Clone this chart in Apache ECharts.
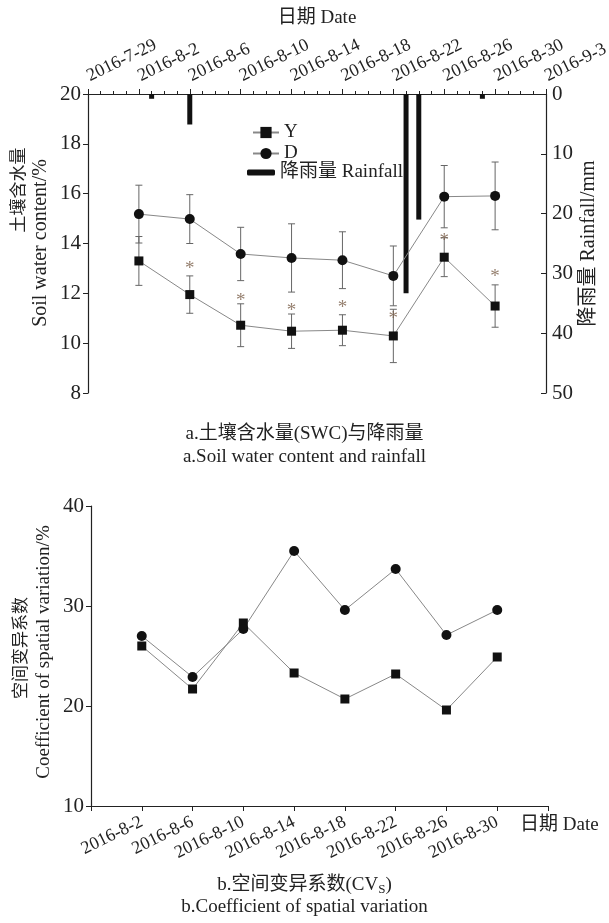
<!DOCTYPE html>
<html><head><meta charset="utf-8">
<script src="https://cdn.jsdelivr.net/npm/echarts@6/dist/echarts.min.js"></script>
<style>html,body{margin:0;padding:0;background:#fff}#c{width:609px;height:923px}</style>
</head><body><div id="c"></div>
<script>
// ---------- data ----------
const sampleDates = ['2016-8-2','2016-8-6','2016-8-10','2016-8-14','2016-8-18','2016-8-22','2016-8-26','2016-8-30'];
const swcY    = [13.30, 11.95, 10.72, 10.48, 10.52, 10.29, 13.45, 11.49];
const swcYErr = [0.98, 0.75, 0.86, 0.69, 0.62, 1.07, 0.78, 0.85];
const swcD    = [15.18, 14.98, 13.58, 13.42, 13.33, 12.70, 15.88, 15.91];
const swcDErr = [1.16, 0.98, 1.07, 1.37, 1.14, 1.20, 1.25, 1.36];
const sigMarkY = [null, 13.15, 11.87, 11.44, 11.56, 11.13, 14.27, 12.80];
const rainDates = ['2016-8-3','2016-8-6','2016-8-23','2016-8-24','2016-8-29'];
const rainMm    = [0.8, 5.1, 33.3, 21.0, 0.8];
const cvY = [26.0, 21.7, 28.3, 23.3, 20.7, 23.2, 19.6, 24.9];
const cvD = [27.0, 22.9, 27.7, 35.5, 29.6, 33.7, 27.1, 29.6];
const axisStart = '2016-7-29', axisEnd = '2016-9-3';

// ---------- helpers ----------
const FONT = '"Liberation Serif","Times New Roman","Noto Sans CJK SC",serif';
function toDate(s){ const p = s.split('-').map(Number); return new Date(p[0], p[1]-1, p[2]); }
const t0 = toDate(axisStart);
function dayIndex(s){ return Math.round((toDate(s) - t0) / 86400000); }
function dateLabel(i){ const d = new Date(t0.getFullYear(), t0.getMonth(), t0.getDate() + Math.round(i)); return d.getFullYear() + '-' + (d.getMonth()+1) + '-' + d.getDate(); }
const spanDays = dayIndex(axisEnd);
const xs = sampleDates.map(dayIndex);
const AX = '#222';

function errRender(params, api){
  const x = api.value(0), lo = api.value(1), hi = api.value(2);
  const a = api.coord([x, lo]), b = api.coord([x, hi]);
  const w = 3.5, st = {stroke:'#666', lineWidth:1};
  return {type:'group', children:[
    {type:'line', shape:{x1:a[0], y1:a[1], x2:b[0], y2:b[1]}, style:st},
    {type:'line', shape:{x1:a[0]-w, y1:a[1], x2:a[0]+w, y2:a[1]}, style:st},
    {type:'line', shape:{x1:b[0]-w, y1:b[1], x2:b[0]+w, y2:b[1]}, style:st}
  ]};
}
const txt = {fontFamily: FONT, fontSize: 19, color: AX};
const tickTxt = {fontFamily: FONT, fontSize: 21, color: AX};
const dateTxt = {fontFamily: FONT, fontSize: 18, color: AX};

const chart = echarts.init(document.getElementById('c'), null, {renderer:'canvas'});
chart.setOption({
  backgroundColor:'#fff',
  animation:false,
  title:[
    {text:'a.土壤含水量(SWC)与降雨量', left:'center', top:420, textStyle:Object.assign({fontWeight:'normal'}, txt)},
    {text:'a.Soil water content and rainfall', left:'center', top:443, textStyle:Object.assign({fontWeight:'normal'}, txt)},
    {text:'{m|b.空间变异系数(CV}{s|S}{m|)}', left:'center', top:870, textStyle:{fontWeight:'normal', rich:{m:Object.assign({fontWeight:'normal'}, txt), s:{fontFamily:FONT, fontWeight:'normal', fontSize:13, color:AX, padding:[8,0,0,0]}}}},
    {text:'b.Coefficient of spatial variation', left:'center', top:893, textStyle:Object.assign({fontWeight:'normal'}, txt)}
  ],
  legend:[
    {data:['Y','D'], orient:'vertical', left:252, top:123, padding:0, itemWidth:26, itemHeight:14, itemGap:2, textStyle:Object.assign({}, txt), selectedMode:false},
    {data:['降雨量 Rainfall'], left:247, top:163, padding:0, itemWidth:28, itemHeight:6, textStyle:Object.assign({}, txt), selectedMode:false}
  ],
  grid:[
    {left:88, right:63, top:94, height:299, outerBoundsMode:'none'},
    {left:91, right:61, top:506, height:300, outerBoundsMode:'none'}
  ],
  xAxis:[
    {gridIndex:0, type:'value', position:'top', min:0, max:spanDays, interval:4,
     axisLine:{show:true, lineStyle:{color:AX, width:1.2}},
     axisTick:{show:true, length:5, lineStyle:{color:AX}},
     minorTick:{show:true, splitNumber:4, length:3, lineStyle:{color:AX}},
     splitLine:{show:false}, minorSplitLine:{show:false},
     axisLabel:Object.assign({rotate:26, margin:17, formatter:v => dateLabel(v), showMinLabel:true, showMaxLabel:true, hideOverlap:false}, dateTxt),
     name:'日期 Date', nameLocation:'middle', nameGap:66, nameMoveOverlap:false, nameTextStyle:Object.assign({}, txt)},
    {gridIndex:1, type:'value', position:'bottom', min:0, max:spanDays, interval:4,
     axisLine:{show:true, lineStyle:{color:AX, width:1.2}},
     axisTick:{show:true, length:5, lineStyle:{color:AX}},
     splitLine:{show:false},
     axisLabel:Object.assign({rotate:26, margin:15, formatter:v => (v <= 0 || v >= spanDays) ? '' : dateLabel(v), hideOverlap:false}, dateTxt),
     name:'日期 Date', nameLocation:'end', nameGap:-28, nameMoveOverlap:false,
     nameTextStyle:Object.assign({align:'left', verticalAlign:'top', padding:[10,0,0,0]}, txt)}
  ],
  yAxis:[
    {gridIndex:0, type:'value', position:'left', min:8, max:20, interval:2,
     axisLine:{show:true, lineStyle:{color:AX, width:1.2}},
     axisTick:{show:true, length:5, lineStyle:{color:AX}},
     splitLine:{show:false}, axisLabel:Object.assign({margin:7}, tickTxt)},
    {gridIndex:0, type:'value', position:'right', min:0, max:50, interval:10, inverse:true,
     axisLine:{show:true, lineStyle:{color:AX, width:1.2}},
     axisTick:{show:true, inside:true, length:5, lineStyle:{color:AX}},
     splitLine:{show:false}, axisLabel:Object.assign({margin:6}, tickTxt),
     name:'降雨量 Rainfall/mm', nameLocation:'middle', nameRotate:90, nameGap:33, nameMoveOverlap:false, nameTextStyle:Object.assign({}, txt, {fontSize:20})},
    {gridIndex:1, type:'value', position:'left', min:10, max:40, interval:10,
     axisLine:{show:true, lineStyle:{color:AX, width:1.2}},
     axisTick:{show:true, length:5, lineStyle:{color:AX}},
     splitLine:{show:false}, axisLabel:Object.assign({margin:7}, tickTxt)}
  ],
  graphic:[
    {type:'text', x:20, y:190, rotation:Math.PI/2, style:{text:'土壤含水量', fontFamily:FONT, fontSize:17, fill:AX, align:'center', verticalAlign:'middle'}},
    {type:'text', x:41, y:243, rotation:Math.PI/2, style:{text:'Soil water content/%', fontFamily:FONT, fontSize:20, fill:AX, align:'center', verticalAlign:'middle'}},
    {type:'text', x:22, y:648, rotation:Math.PI/2, style:{text:'空间变异系数', fontFamily:FONT, fontSize:17, fill:AX, align:'center', verticalAlign:'middle'}},
    {type:'text', x:44, y:652, rotation:Math.PI/2, style:{text:'Coefficient of spatial variation/%', fontFamily:FONT, fontSize:19, fill:AX, align:'center', verticalAlign:'middle'}}
  ],
  series:[
    {name:'降雨量 Rainfall', type:'bar', xAxisIndex:0, yAxisIndex:1, barWidth:5,
     itemStyle:{color:'#111'}, data:rainDates.map((d,i)=>[dayIndex(d), rainMm[i]]), z:3},
    {name:'errY', type:'custom', xAxisIndex:0, yAxisIndex:0, renderItem:errRender, encode:{x:0, y:[1,2]},
     data:xs.map((x,i)=>[x, swcY[i]-swcYErr[i], swcY[i]+swcYErr[i]]), z:2},
    {name:'errD', type:'custom', xAxisIndex:0, yAxisIndex:0, renderItem:errRender, encode:{x:0, y:[1,2]},
     data:xs.map((x,i)=>[x, swcD[i]-swcDErr[i], swcD[i]+swcDErr[i]]), z:2},
    {name:'Y', type:'line', xAxisIndex:0, yAxisIndex:0, symbol:'rect', symbolSize:9,
     itemStyle:{color:'#111'}, lineStyle:{color:'#888', width:1}, data:xs.map((x,i)=>[x, swcY[i]]), z:4},
    {name:'D', type:'line', xAxisIndex:0, yAxisIndex:0, symbol:'circle', symbolSize:10,
     itemStyle:{color:'#111'}, lineStyle:{color:'#888', width:1}, data:xs.map((x,i)=>[x, swcD[i]]), z:4},
    {name:'sig', type:'scatter', xAxisIndex:0, yAxisIndex:0, symbolSize:1, itemStyle:{color:'rgba(0,0,0,0)'},
     label:{show:true, position:'inside', formatter:'*', fontFamily:FONT, fontSize:19, color:'#7a5f4a', offset:[0,4]},
     data:xs.map((x,i)=>[x, sigMarkY[i]]).filter(p=>p[1]!=null), z:5},
    {name:'CV-Y', type:'line', xAxisIndex:1, yAxisIndex:2, symbol:'rect', symbolSize:9,
     itemStyle:{color:'#111'}, lineStyle:{color:'#888', width:1}, data:xs.map((x,i)=>[x, cvY[i]])},
    {name:'CV-D', type:'line', xAxisIndex:1, yAxisIndex:2, symbol:'circle', symbolSize:10,
     itemStyle:{color:'#111'}, lineStyle:{color:'#888', width:1}, data:xs.map((x,i)=>[x, cvD[i]])}
  ]
});
</script></body></html>
